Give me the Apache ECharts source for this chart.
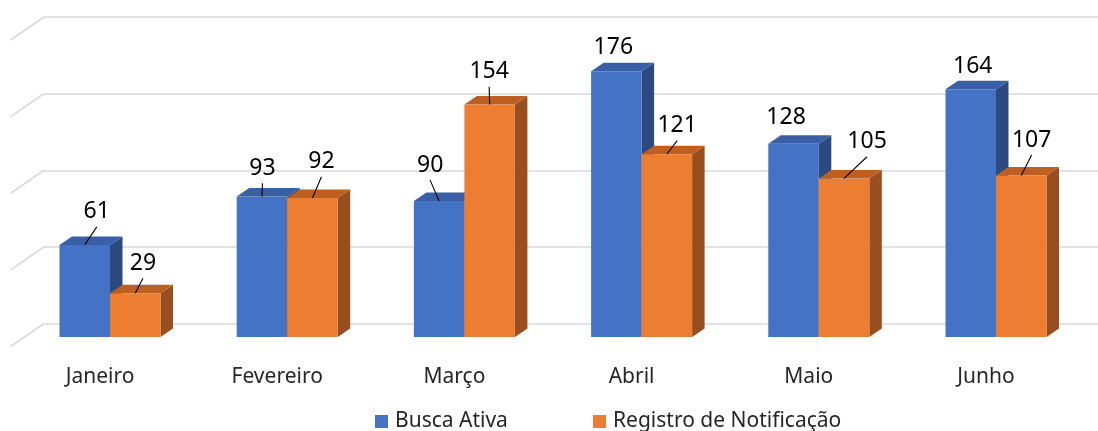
<!DOCTYPE html>
<html><head><meta charset="utf-8">
<script src="https://cdn.jsdelivr.net/npm/echarts@6/dist/echarts.min.js"></script>
<style>html,body{margin:0;padding:0;background:#fff}#c{width:1098px;height:431px}</style>
</head><body><div id="c"></div>
<script>
const categories = ['Janeiro','Fevereiro','Março','Abril','Maio','Junho'];
const buscaAtiva = [61, 93, 90, 176, 128, 164];
const registroNotificacao = [29, 92, 154, 121, 105, 107];
const seriesNames = ['Busca Ativa', 'Registro de Notificação'];
const yTicks = [0, 50, 100, 150, 200];

// label placement nudges (px), relative to the top-centre of each bar's front face
const labelNudgeBusca = [[12,-33],[0.5,-28.3],[-9,-36],[-3,-23.5],[-7.5,-26],[2,-22.7]];
const labelNudgeRegistro = [[7.7,-30],[9,-36.4],[-0.5,-32.8],[10.3,-28.6],[23,-36.7],[10.4,-35.4]];

const colors = [
  {front:'#4472C4', top:'#3A5FA6', side:'#2C4A80'},
  {front:'#ED7D31', top:'#BE5F22', side:'#984E1E'}
];
const DX = 12.5, DY = -8.5, BARFRAC = 0.285;
const FONT = '"Noto Sans", "Open Sans", sans-serif';

function barRender(si, nudges) {
  return function (params, api) {
    const ci = api.value(0), v = api.value(1);
    const c = api.coord([ci, v]);
    const base = api.coord([ci, 0]);
    const cw = api.size([1, 0])[0];
    const w = cw * BARFRAC;
    const x0 = si === 0 ? c[0] - w : c[0];
    const x1 = x0 + w;
    const yt = c[1], yb = base[1];
    const col = colors[si];
    const ch = [
      {type:'polygon', shape:{points:[[x1,yt],[x1+DX,yt+DY],[x1+DX,yb+DY],[x1,yb]]}, style:{fill:col.side}},
      {type:'polygon', shape:{points:[[x0,yt],[x0+DX,yt+DY],[x1+DX,yt+DY],[x1,yt]]}, style:{fill:col.top}},
      {type:'rect', shape:{x:x0, y:yt, width:w, height:yb-yt}, style:{fill:col.front}}
    ];
    const bx = (x0 + x1) / 2, n = nudges[params.dataIndex];
    const lx = bx + n[0], ly = yt + n[1];
    if (yt - (ly + 15) > 12) {
      ch.push({type:'line', shape:{x1:bx, y1:yt, x2:lx, y2:ly+15}, style:{stroke:'#000', lineWidth:1.1}});
    }
    ch.push({type:'text', style:{text:String(v), x:lx, y:ly, align:'center', verticalAlign:'middle',
      fontSize:23, fontFamily:FONT, fill:'#000'}});
    return {type:'group', children:ch};
  };
}

const chart = echarts.init(document.getElementById('c'), null, {renderer:'canvas'});
chart.setOption({
  animation:false,
  backgroundColor:'#fff',
  grid:[
    {left:44, right:0, top:17, bottom:107.5},
    {left:21.4, right:13.4, top:35, bottom:94}
  ],
  xAxis:[
    {type:'category', gridIndex:0, data:categories, show:false},
    {type:'category', gridIndex:1, data:categories,
      axisLine:{show:false}, axisTick:{show:false},
      axisLabel:{margin:30, fontSize:21, lineHeight:21, fontFamily:FONT, color:'#262626', padding:[0,20,0,0]}}
  ],
  yAxis:[
    {type:'value', gridIndex:0, min:yTicks[0], max:yTicks[yTicks.length-1], interval:yTicks[1]-yTicks[0],
      axisLabel:{show:false}, axisLine:{show:false}, axisTick:{show:false},
      splitLine:{show:true, lineStyle:{color:'#d9d9d9', width:1.6}}},
    {type:'value', gridIndex:1, min:yTicks[0], max:yTicks[yTicks.length-1], show:false, splitLine:{show:false}}
  ],
  legend:[
    {data:[seriesNames[0]], left:370, top:406, itemWidth:13, itemHeight:13, icon:'rect',
      textStyle:{fontSize:21, lineHeight:21, fontFamily:FONT, color:'#262626', padding:[0,0,0,2]}},
    {data:[seriesNames[1]], left:588, top:406, itemWidth:13, itemHeight:13, icon:'rect',
      textStyle:{fontSize:21, lineHeight:21, fontFamily:FONT, color:'#262626', padding:[0,0,0,2]}}
  ],
  series:[
    {type:'custom', name:'sidewall', xAxisIndex:0, yAxisIndex:0, silent:true, z:1,
      data:yTicks.map(v => [0, v]),
      renderItem:function(params, api){
        const y = api.coord([0, api.value(1)])[1];
        const x0 = params.coordSys.x;
        return {type:'line', shape:{x1:x0, y1:y, x2:x0-33.3, y2:y+23},
          style:{stroke:'#d9d9d9', lineWidth:1.6}};
      }},
    {type:'custom', name:seriesNames[0], xAxisIndex:1, yAxisIndex:1, z:3,
      itemStyle:{color:colors[0].front},
      data:buscaAtiva.map((v,i) => [i, v]),
      renderItem:barRender(0, labelNudgeBusca)},
    {type:'custom', name:seriesNames[1], xAxisIndex:1, yAxisIndex:1, z:4,
      itemStyle:{color:colors[1].front},
      data:registroNotificacao.map((v,i) => [i, v]),
      renderItem:barRender(1, labelNudgeRegistro)}
  ]
});
</script></body></html>
